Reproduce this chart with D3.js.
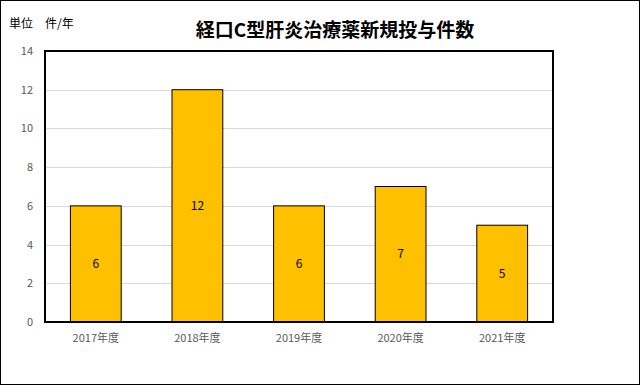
<!DOCTYPE html>
<html>
<head>
<meta charset="utf-8">
<script src="https://cdn.jsdelivr.net/npm/d3@7"></script>
<style>
body { margin: 0; background: #fff; }
text { font-family: "Noto Sans CJK JP", "Noto Sans", sans-serif; }
</style>
</head>
<body>
<div id="chart"></div>
<script>
// data
var years = ["2017年度", "2018年度", "2019年度", "2020年度", "2021年度"];
var counts = [6, 12, 6, 7, 5];
var y_ticks = [0, 2, 4, 6, 8, 10, 12, 14];

var width = 640, height = 385;
var plot = {left: 45, top: 51, right: 553, bottom: 322};

var svg = d3.select("#chart").append("svg")
	.attr("width", width)
	.attr("height", height);

// outer frame
svg.append("rect")
	.attr("x", 0.5).attr("y", 0.5)
	.attr("width", width - 1).attr("height", height - 1)
	.style("fill", "#fff").style("stroke", "#000").style("stroke-width", 1);

var x = d3.scaleBand()
	.domain(years)
	.range([plot.left, plot.right])
	.paddingInner(0.5)
	.paddingOuter(0.25);

var y = d3.scaleLinear()
	.domain([0, 14])
	.range([plot.bottom, plot.top]);

// gridlines
svg.append("g").selectAll("line")
	.data(y_ticks.filter(d => d > 0 && d < 14))
	.join("line")
	.attr("x1", plot.left).attr("x2", plot.right)
	.attr("y1", d => Math.round(y(d)) + 0.5)
	.attr("y2", d => Math.round(y(d)) + 0.5)
	.style("stroke", "#d9d9d9");

// y axis labels
var y_axis = d3.axisLeft(y).tickValues(y_ticks).tickSize(0).tickPadding(12);
var gy = svg.append("g")
	.attr("transform", "translate(" + plot.left + ",0)")
	.call(y_axis);
gy.select(".domain").remove();
gy.selectAll("text")
	.style("font-size", "11px")
	.style("fill", "#595959");

// x axis labels
var x_axis = d3.axisBottom(x).tickSize(0).tickPadding(12);
var gx = svg.append("g")
	.attr("transform", "translate(0," + plot.bottom + ")")
	.call(x_axis);
gx.select(".domain").remove();
gx.selectAll("text")
	.style("font-size", "11px")
	.style("fill", "#595959");

// bars
svg.append("g").selectAll("rect")
	.data(counts)
	.join("rect")
	.attr("x", (d, i) => x(years[i]))
	.attr("y", d => y(d))
	.attr("width", x.bandwidth())
	.attr("height", d => y(0) - y(d))
	.style("fill", "#ffc000")
	.style("stroke", "#000")
	.style("stroke-width", 1);

// value labels in the middle of each bar
svg.append("g").selectAll("text")
	.data(counts)
	.join("text")
	.attr("x", (d, i) => x(years[i]) + x.bandwidth() / 2)
	.attr("y", d => (y(d) + y(0)) / 2)
	.attr("dy", "0.35em")
	.attr("text-anchor", "middle")
	.style("font-size", "12px")
	.style("fill", "#000")
	.text(d => d);

// plot area border
svg.append("rect")
	.attr("x", plot.left).attr("y", plot.top)
	.attr("width", plot.right - plot.left)
	.attr("height", plot.bottom - plot.top)
	.style("fill", "none").style("stroke", "#000").style("stroke-width", 2);

// title and unit
svg.append("text")
	.attr("x", 335).attr("y", 37)
	.attr("text-anchor", "middle")
	.style("font-size", "19px")
	.style("font-weight", "bold")
	.style("fill", "#000")
	.text("経口C型肝炎治療薬新規投与件数");

svg.append("text")
	.attr("x", 9).attr("y", 28)
	.style("font-size", "12px")
	.style("fill", "#000")
	.text("単位　件/年");
</script>
</body>
</html>
